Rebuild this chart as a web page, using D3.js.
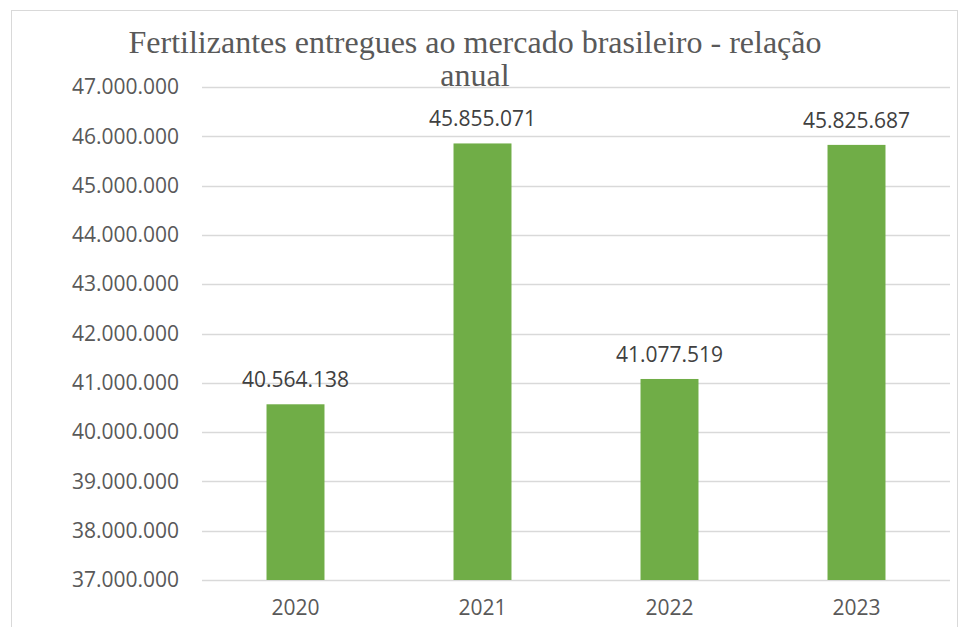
<!DOCTYPE html>
<html>
<head>
<meta charset="utf-8">
<script src="https://cdn.jsdelivr.net/npm/d3@7"></script>
<style>
  body { margin: 0; background: #fff; }
  svg { display: block; }
</style>
</head>
<body>
<div id="chart"></div>
<script>
// Data.
const years = ["2020", "2021", "2022", "2023"];
const amounts = [40564138, 45855071, 41077519, 45825687];
const yTicks = [37000000, 38000000, 39000000, 40000000, 41000000, 42000000,
                43000000, 44000000, 45000000, 46000000, 47000000];
const titleLines = ["Fertilizantes entregues ao mercado brasileiro - relação", "anual"];

const totalWidth = 962;
const totalHeight = 627;
const margin = {top: 87, right: 12, bottom: 47, left: 202};
const width = totalWidth - margin.left - margin.right;
const height = totalHeight - margin.top - margin.bottom;

const labelFont = "'Open Sans', 'Noto Sans', sans-serif";
const fmt = v => d3.format(",")(v).replace(/,/g, ".");

const root = d3.select("#chart").append("svg")
  .attr("width", totalWidth)
  .attr("height", totalHeight);

// Outer frame
root.append("rect")
  .attr("x", 11.5).attr("y", 10.5)
  .attr("width", 946).attr("height", 640)
  .attr("fill", "none")
  .attr("stroke", "#d9d9d9")
  .attr("stroke-width", 1);

const svg = root.append("g")
  .attr("transform", `translate(${margin.left}, ${margin.top})`);

const x = d3.scaleBand().range([0, width]).domain(years)
  .paddingInner(0.69).paddingOuter(0.345);
const y = d3.scaleLinear().range([height, 0]).domain([37000000, 47000000]);

// Gridlines
svg.append("g")
  .selectAll("line")
  .data(yTicks)
  .join("line")
    .attr("x1", 0).attr("x2", width)
    .attr("y1", d => Math.round(y(d)) + 0.5)
    .attr("y2", d => Math.round(y(d)) + 0.5)
    .attr("stroke", "#d9d9d9")
    .attr("stroke-width", 1.3);

// Y axis
svg.append("g")
  .style("font-family", labelFont)
  .style("font-size", "21px")
  .call(d3.axisLeft(y).tickValues(yTicks).tickFormat(fmt).tickSize(0).tickPadding(23))
  .call(g => g.select(".domain").remove())
  .call(g => g.selectAll("text").attr("fill", "#595959"));

// X axis
svg.append("g")
  .attr("transform", `translate(0, ${height})`)
  .style("font-family", labelFont)
  .style("font-size", "21px")
  .call(d3.axisBottom(x).tickSize(0).tickPadding(20))
  .call(g => g.select(".domain").remove())
  .call(g => g.selectAll("text").attr("fill", "#595959"));

// Bars
svg.selectAll(".bar")
  .data(years.map((yr, i) => ({year: yr, value: amounts[i]})))
  .join("rect")
    .attr("class", "bar")
    .attr("x", d => x(d.year))
    .attr("y", d => y(d.value))
    .attr("width", x.bandwidth())
    .attr("height", d => height - y(d.value))
    .attr("fill", "#70ad47");

// Value labels
svg.selectAll(".lbl")
  .data(years.map((yr, i) => ({year: yr, value: amounts[i]})))
  .join("text")
    .attr("class", "lbl")
    .attr("x", d => x(d.year) + x.bandwidth() / 2)
    .attr("y", d => y(d.value) - 17)
    .attr("text-anchor", "middle")
    .style("font-family", labelFont)
    .style("font-size", "21px")
    .attr("fill", "#404040")
    .text(d => fmt(d.value));

// Title
root.append("g")
  .selectAll("text")
  .data(titleLines)
  .join("text")
    .attr("x", 475)
    .attr("y", (d, i) => 53 + i * 33)
    .attr("text-anchor", "middle")
    .style("font-family", "'Liberation Serif', 'DejaVu Serif', serif")
    .style("font-size", "32px")
    .attr("fill", "#595959")
    .text(d => d);
</script>
</body>
</html>
